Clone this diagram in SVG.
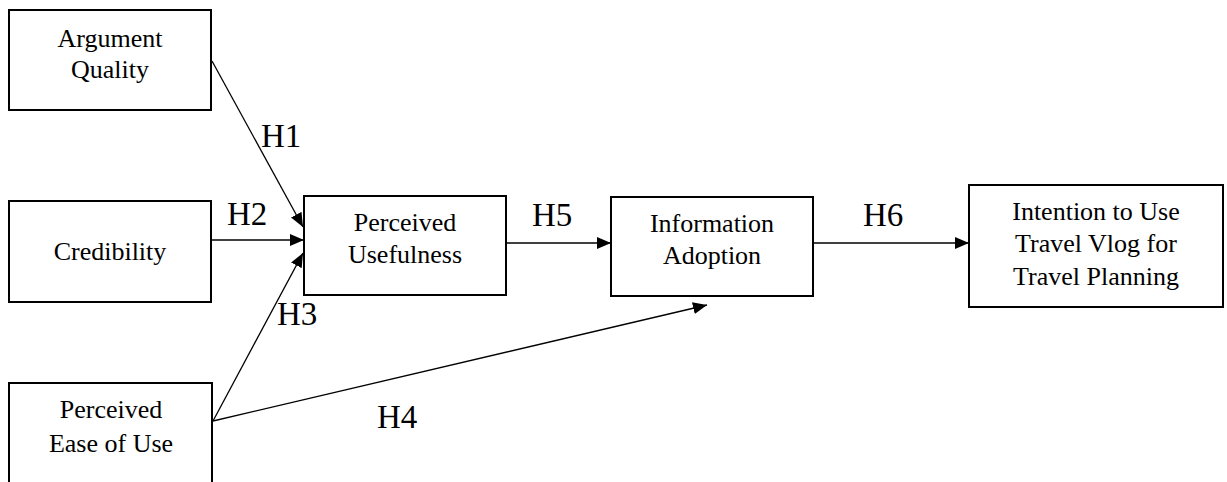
<svg xmlns="http://www.w3.org/2000/svg" width="1227" height="482" viewBox="0 0 1227 482">
<style>
.box{fill:#fff;stroke:#000;stroke-width:2}
.t{font-family:'Liberation Serif','Times New Roman',Times,serif;font-size:26px;fill:#000;text-anchor:middle}
.h{font-family:'Liberation Serif','Times New Roman',Times,serif;font-size:33px;fill:#000}
.c{stroke:#000;stroke-width:1.3;fill:none;marker-end:url(#ah)}
</style>
<defs>
<marker id="ah" viewBox="0 0 14 12" refX="14" refY="6" markerWidth="14" markerHeight="12" markerUnits="userSpaceOnUse" orient="auto">
<path d="M0,0 L14,6 L0,12 Z" fill="#000"/>
</marker>
</defs>
<g id="connectors">
<line class="c" x1="212" y1="61" x2="303" y2="227"/>
<line class="c" x1="211" y1="240" x2="304" y2="240"/>
<line class="c" x1="213" y1="421" x2="303" y2="253"/>
<line class="c" x1="213" y1="421" x2="707" y2="305"/>
<line class="c" x1="507" y1="243" x2="611" y2="243"/>
<line class="c" x1="814" y1="243" x2="969" y2="243"/>
</g>
<g id="labels">
<text class="h" x="261" y="147">H1</text>
<text class="h" x="227" y="225">H2</text>
<text class="h" x="277" y="325">H3</text>
<text class="h" x="377" y="428">H4</text>
<text class="h" x="532" y="226">H5</text>
<text class="h" x="863" y="226">H6</text>
</g>
<g id="argument-quality">
<rect class="box" x="9" y="10" width="202" height="100"/>
<text class="t" x="110" y="47">Argument</text>
<text class="t" x="110" y="78">Quality</text>
</g>
<g id="credibility">
<rect class="box" x="9" y="201" width="202" height="101"/>
<text class="t" x="110" y="260">Credibility</text>
</g>
<g id="perceived-ease-of-use">
<rect class="box" x="9" y="383" width="203" height="110"/>
<text class="t" x="111" y="418">Perceived</text>
<text class="t" x="111" y="452">Ease of Use</text>
</g>
<g id="perceived-usefulness">
<rect class="box" x="304" y="196" width="202" height="99"/>
<text class="t" x="405" y="231">Perceived</text>
<text class="t" x="405" y="263">Usefulness</text>
</g>
<g id="information-adoption">
<rect class="box" x="611" y="197" width="202" height="99"/>
<text class="t" x="712" y="232">Information</text>
<text class="t" x="712" y="264">Adoption</text>
</g>
<g id="intention">
<rect class="box" x="969" y="185" width="254" height="122"/>
<text class="t" x="1096" y="220">Intention to Use</text>
<text class="t" x="1096" y="252">Travel Vlog for</text>
<text class="t" x="1096" y="285">Travel Planning</text>
</g>
</svg>
